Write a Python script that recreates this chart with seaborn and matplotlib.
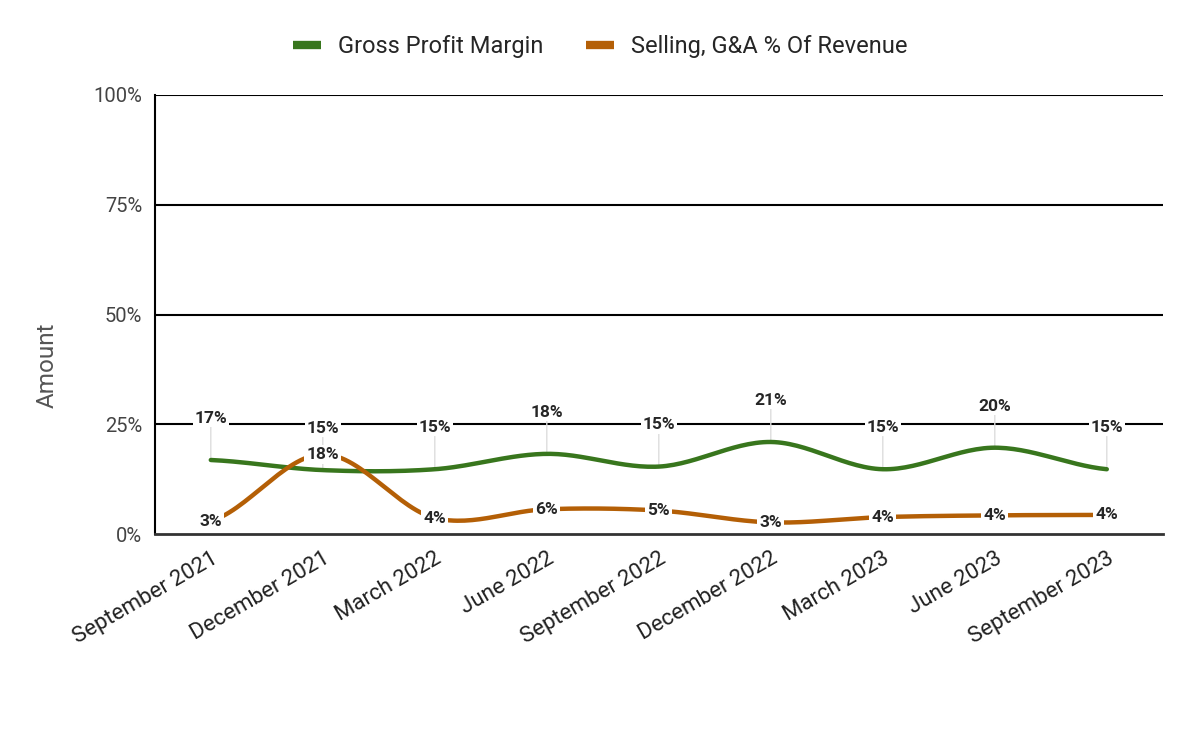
import numpy as np
import pandas as pd
import matplotlib
matplotlib.use("Agg")
import matplotlib.pyplot as plt
from matplotlib.lines import Line2D
import seaborn as sns

# --- data ---
quarters = ["September 2021", "December 2021", "March 2022", "June 2022",
            "September 2022", "December 2022", "March 2023", "June 2023",
            "September 2023"]
gross_margin = [16.9, 14.6, 14.8, 18.3, 15.4, 21.0, 14.8, 19.7, 14.8]
sga_pct = [3.0, 18.2, 3.7, 5.7, 5.4, 2.7, 3.9, 4.3, 4.4]
series_names = ["Gross Profit Margin", "Selling, G&A % Of Revenue"]
colors = ["#38761d", "#b45f06"]
y_ticks = [0, 25, 50, 75, 100]


def smooth(vals, steps=30):
    # catmull-rom curve through the points, drawing only
    v = np.asarray(vals, dtype=float)
    p = np.concatenate([[v[0]], v, [v[-1]]])
    xs, ys = [], []
    for i in range(len(v) - 1):
        t = np.linspace(0, 1, steps, endpoint=False)
        p0, p1, p2, p3 = p[i], p[i + 1], p[i + 2], p[i + 3]
        y = 0.5 * (2 * p1 + (-p0 + p2) * t + (2 * p0 - 5 * p1 + 4 * p2 - p3) * t ** 2
                   + (-p0 + 3 * p1 - 3 * p2 + p3) * t ** 3)
        xs.extend(i + t)
        ys.extend(y)
    xs.append(len(v) - 1)
    ys.append(v[-1])
    return np.array(xs), np.array(ys)


frames = []
for name, vals in zip(series_names, [gross_margin, sga_pct]):
    sx, sy = smooth(vals)
    frames.append(pd.DataFrame({"x": sx, "y": sy, "series": name}))
df = pd.concat(frames, ignore_index=True)

sns.set_style("white")
plt.rcParams["font.family"] = ["Roboto", "DejaVu Sans"]

fig = plt.figure(figsize=(12, 7.41), dpi=100)
ax = fig.add_axes([0.129, 0.279, 0.840, 0.593])

# grid lines
for yt in y_ticks[1:]:
    ax.axhline(yt, color="black", lw=1.5, zorder=1)

sns.lineplot(data=df, x="x", y="y", hue="series", palette=colors,
             hue_order=series_names, lw=3.2, legend=False, ax=ax, zorder=3)

x_idx = np.arange(len(quarters))

# gross margin labels above with leader lines
for xi, v in zip(x_idx, gross_margin):
    ax.annotate(f"{round(v)}%", xy=(xi, v), xytext=(0, 30), textcoords="offset points",
                ha="center", va="center", fontsize=12.5, fontweight="bold",
                bbox=dict(boxstyle="square,pad=0.08", fc="white", ec="none"),
                arrowprops=dict(arrowstyle="-", color="#dddddd", lw=1,
                                shrinkA=0, shrinkB=0),
                zorder=2)

# sga labels sit on the points
for xi, v in zip(x_idx, sga_pct):
    ax.annotate(f"{round(v)}%", xy=(xi, v), ha="center", va="center",
                fontsize=12.5, fontweight="bold",
                bbox=dict(boxstyle="square,pad=0.12", fc="white", ec="none"),
                zorder=5)

ax.set_xlim(-0.5, len(quarters) - 0.5)
ax.set_ylim(0, 100)
ax.set_yticks(y_ticks)
ax.set_yticklabels([f"{t}%" for t in y_ticks], fontsize=14.5, color="#444444")
ax.set_xticks(x_idx)
ax.set_xticklabels(quarters, rotation=30, ha="right", rotation_mode="anchor",
                   fontsize=16, color="#222222")
ax.tick_params(axis="y", length=0, pad=9)
ax.tick_params(axis="x", length=0, pad=10)
ax.set_xlabel("")
ax.set_ylabel("Amount", fontsize=17.5, color="#555555")
ax.yaxis.set_label_coords(-0.095, 0.385)

for s in ["top", "right"]:
    ax.spines[s].set_visible(False)
ax.spines["left"].set_color("black")
ax.spines["left"].set_linewidth(1.5)
ax.spines["bottom"].set_color("#333333")
ax.spines["bottom"].set_linewidth(2)

handles = [Line2D([0], [0], color=c, lw=6, solid_capstyle="butt") for c in colors]
fig.legend(handles, series_names, loc="center", bbox_to_anchor=(0.5, 0.937),
           ncol=2, frameon=False, fontsize=17, handlelength=1.2,
           columnspacing=1.8, handletextpad=0.7)

fig.savefig("out.png", dpi=100)
